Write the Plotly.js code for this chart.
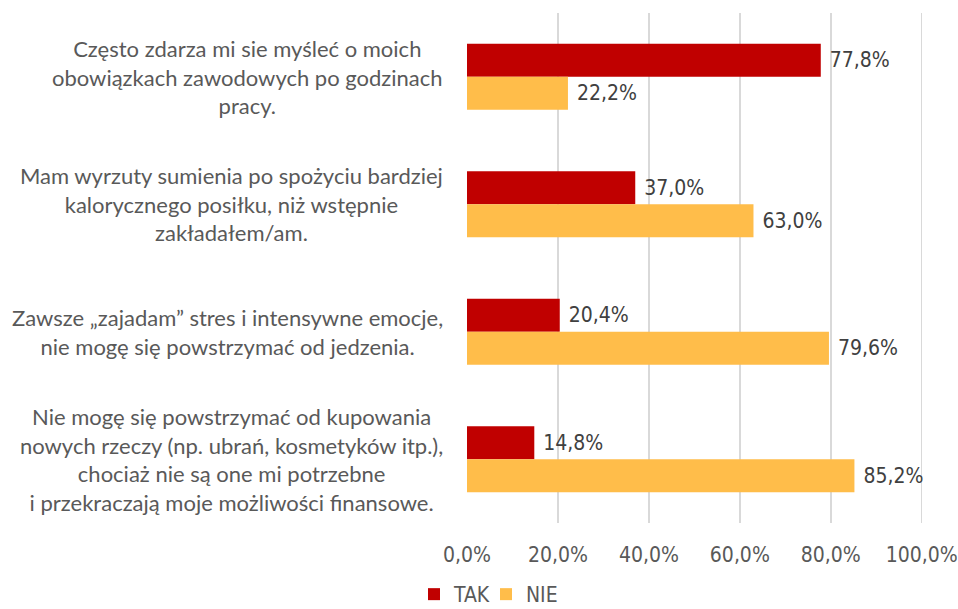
<!DOCTYPE html>
<html>
<head>
<meta charset="utf-8">
<script src="https://cdn.plot.ly/plotly-3.0.1.min.js"></script>
<style>html,body{margin:0;padding:0;background:#fff;}#chart{width:958px;height:609px;}</style>
</head>
<body>
<div id="chart"></div>
<script>
var categories = [
  "Często zdarza mi sie myśleć o moich<br>obowiązkach zawodowych po godzinach<br>pracy.",
  "Mam wyrzuty sumienia po spożyciu bardziej<br>kalorycznego posiłku, niż wstępnie<br>zakładałem/am.",
  "Zawsze „zajadam” stres i intensywne emocje,<br>nie mogę się powstrzymać od jedzenia.",
  "Nie mogę się powstrzymać od kupowania<br>nowych rzeczy (np. ubrań, kosmetyków itp.),<br>chociaż nie są one mi potrzebne<br>i przekraczają moje możliwości finansowe."
];
var takValues = [77.8, 37.0, 20.4, 14.8];
var nieValues = [22.2, 63.0, 79.6, 85.2];
var tickValues = [0, 20, 40, 60, 80, 100];
var tickLabels = ["0,0%", "20,0%", "40,0%", "60,0%", "80,0%", "100,0%"];

var narrow = "'DejaVu Sans Condensed', Roboto, sans-serif";
var labelFont = "Lato, 'Open Sans', sans-serif";

function fmt(v) { return "\u00a0" + v.toFixed(1).replace(".", ",") + "%"; }

var traces = [
  {
    type: "bar", orientation: "h", name: "TAK",
    y: categories, x: takValues,
    text: takValues.map(fmt), textposition: "outside", cliponaxis: false,
    constraintext: "none",
    textfont: {family: narrow, size: 21, color: "#404040"},
    marker: {color: "#C00000"},
    hoverinfo: "x+name"
  },
  {
    type: "bar", orientation: "h", name: "NIE",
    y: categories, x: nieValues,
    text: nieValues.map(fmt), textposition: "outside", cliponaxis: false,
    constraintext: "none",
    textfont: {family: narrow, size: 21, color: "#404040"},
    marker: {color: "#FFBD4A"},
    hoverinfo: "x+name"
  }
];

var annotations = categories.map(function (c) {
  return {
    xref: "paper", yref: "y", x: 0, y: c, xanchor: "right", yanchor: "middle",
    xshift: -22, text: c, align: "center", showarrow: false,
    font: {family: labelFont, size: 22, color: "#595959"}
  };
});

var layout = {
  width: 958, height: 609,
  margin: {l: 467, r: 33.5, t: 13, b: 86, autoexpand: false},
  paper_bgcolor: "#ffffff", plot_bgcolor: "#ffffff",
  barmode: "group", bargap: 0.483, bargroupgap: 0,
  showlegend: true,
  legend: {
    orientation: "h", x: -0.116, xanchor: "left", y: -0.1, yanchor: "top",
    font: {family: narrow, size: 21, color: "#595959"},
    traceorder: "normal", entrywidth: 27, entrywidthmode: "pixels"
  },
  xaxis: {
    range: [0, 100.5], tickvals: tickValues, ticktext: tickLabels,
    showgrid: true, gridcolor: "#D9D9D9", gridwidth: 1.5,
    zeroline: false, showline: false, ticks: "",
    ticklabelstandoff: 17, ticklabeloverflow: "allow",
    tickfont: {family: narrow, size: 21, color: "#595959"}
  },
  yaxis: {
    type: "category", range: [3.5, -0.5], showticklabels: false,
    showgrid: false, zeroline: false, showline: false, ticks: ""
  },
  annotations: annotations
};

Plotly.newPlot("chart", traces, layout, {displayModeBar: false, staticPlot: true});
</script>
</body>
</html>
